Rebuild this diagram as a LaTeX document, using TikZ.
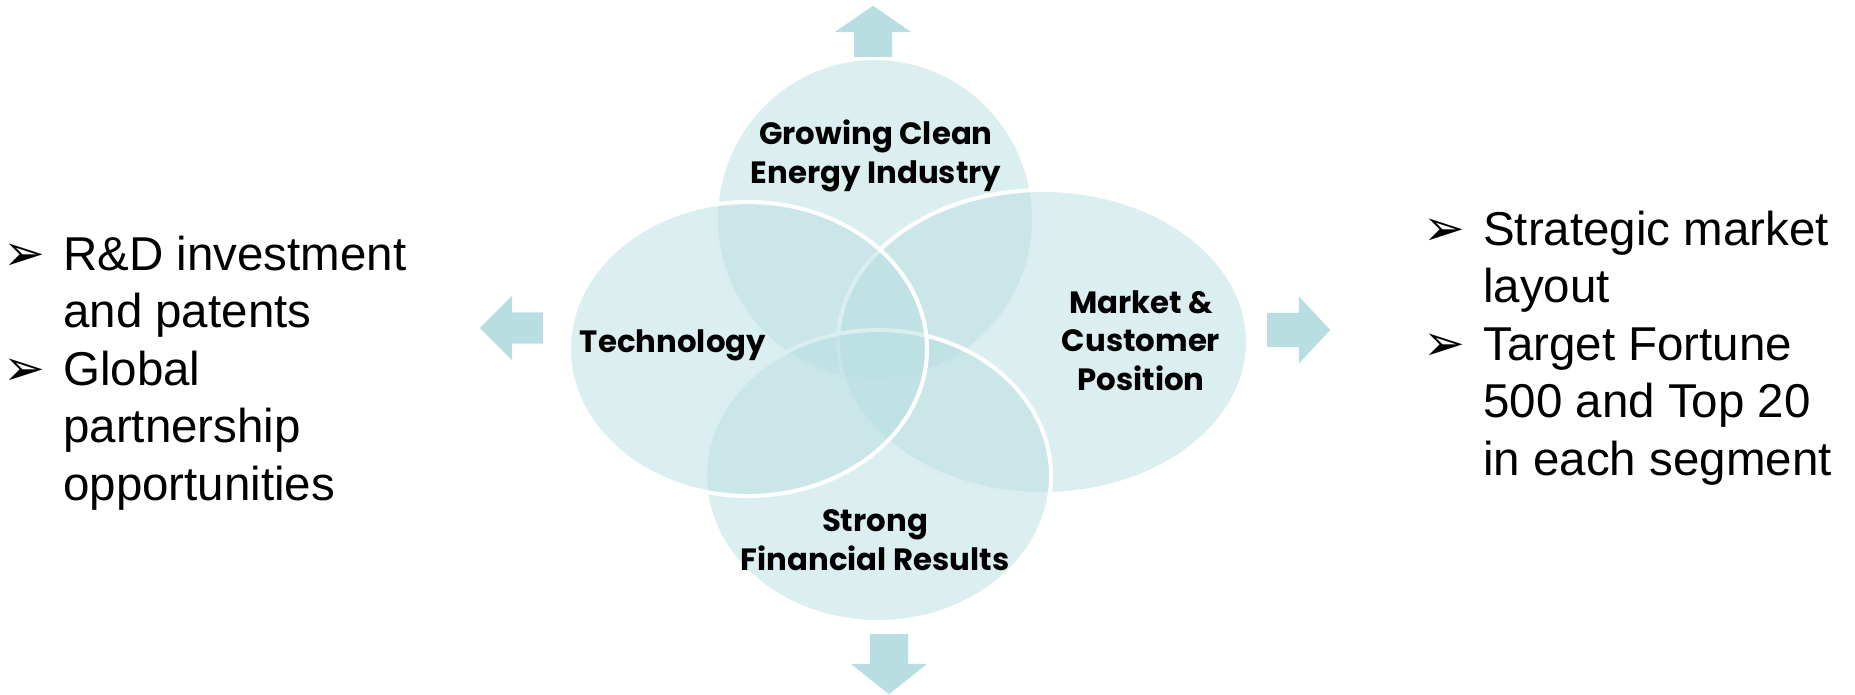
\documentclass[tikz,border=0pt]{standalone}
\usepackage{fontspec}
\setmainfont{Liberation Sans}
\newfontfamily\lblfont{Poppins}
\newfontfamily\bulfont{DejaVu Sans}
\usepackage{tikz}
\usetikzlibrary{positioning, shapes.geometric, shapes.arrows}
\definecolor{petal}{HTML}{B8DEE1}
\newcommand{\bul}{\llap{{\bulfont\fontsize{50}{50}\selectfont ➢}\hspace{18pt}}}

\begin{document}
\begin{tikzpicture}[
    x=1pt, y=-1pt,
    petal/.style={ellipse, fill=petal, fill opacity=0.5, draw=white, line width=4pt, inner sep=0pt},
    lbl/.style={font=\lblfont\bfseries\fontsize{30.8}{38.5}\selectfont, align=center, inner sep=0pt},
    bullets/.style={font=\fontsize{47.5}{57.5}\selectfont, align=left, inner sep=0pt},
    bigarrow/.style={single arrow, fill=petal, inner xsep=0pt, inner ysep=19pt, single arrow head extend=19pt}
]
\useasboundingbox (0,0) rectangle (1855,694);

\node[petal, minimum width=318pt, minimum height=322pt] (grow) at (875,219) {};
\node[petal, minimum width=410pt, minimum height=304pt] (market) at (1043,342) {};
\node[petal, minimum width=346pt, minimum height=292pt] (strong) at (878,476) {};
\node[petal, minimum width=358pt, minimum height=294pt] (tech) at (748,349) {};

\node[lbl, anchor=base] (growtxt) at (876,183) {Growing Clean\\Energy Industry};
\node[lbl, anchor=base] (techtxt) at (673,352) {Technology};
\node[lbl, anchor=base] (markettxt) at (1141,390) {Market \&\\Customer\\Position};
\node[lbl, anchor=base] (strongtxt) at (875,570) {Strong\\Financial Results};

\node[bigarrow, rotate=90, minimum height=51pt, single arrow tip angle=111, anchor=tail] (uparr) at (873,57) {};
\node[bigarrow, rotate=-90, minimum height=60pt, single arrow tip angle=103, anchor=tail] (downarr) at (889,634) {};
\node[bigarrow, inner ysep=17pt, single arrow head extend=16.5pt, minimum height=63pt, single arrow tip angle=94, anchor=tail] (rightarr) at (1267,330) {};
\node[bigarrow, rotate=180, inner ysep=15.5pt, single arrow head extend=16.5pt, minimum height=63pt, single arrow tip angle=90, anchor=tail] (leftarr) at (543,328) {};

\node[bullets, anchor=base west] (lefttext) at (63,500) {\bul R\&D investment\\and patents\\\bul Global\\partnership\\opportunities};
\node[bullets, anchor=base west] (righttext) at (1483,475) {\bul Strategic market\\layout\\\bul Target Fortune\\500 and Top 20\\in each segment};
\end{tikzpicture}
\end{document}
